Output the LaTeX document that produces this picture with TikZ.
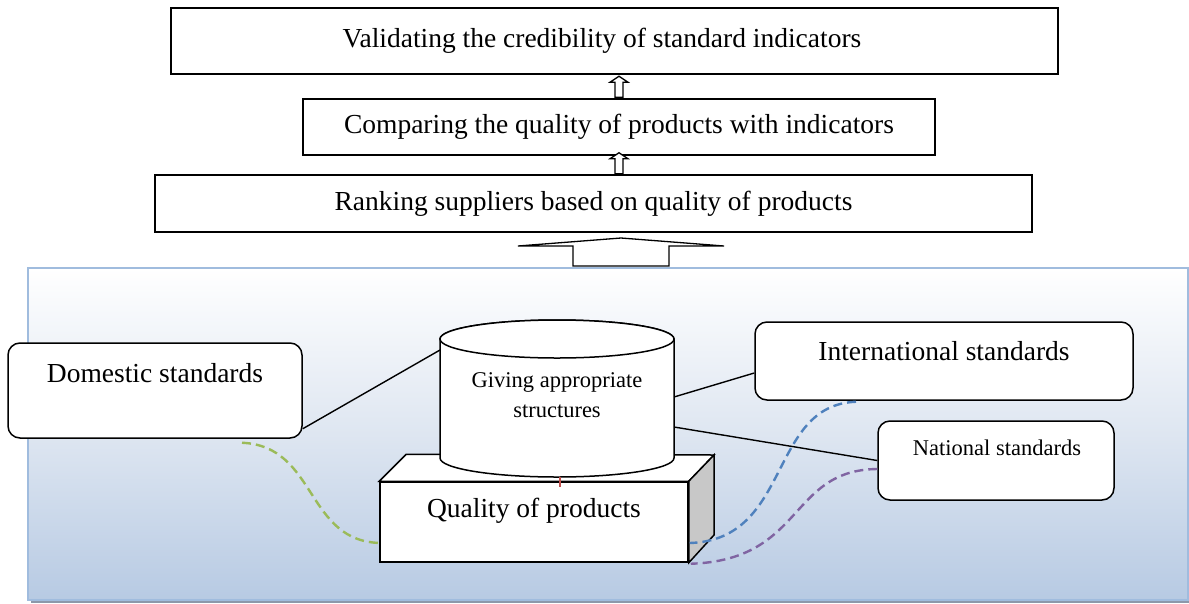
\documentclass[tikz,border=0pt]{standalone}
\usepackage{fontspec}
\setmainfont{Liberation Serif}
\usetikzlibrary{calc}
\definecolor{panelblue}{RGB}{183,202,227}
\definecolor{panelborder}{RGB}{160,188,222}
\definecolor{panelshadow}{RGB}{140,152,170}
\definecolor{sidegray}{RGB}{200,200,200}
\definecolor{dgreen}{RGB}{155,187,89}
\definecolor{dblue}{RGB}{79,129,189}
\definecolor{dpurple}{RGB}{128,100,162}
\definecolor{dred}{RGB}{192,80,77}
\tikzset{
  bigfont/.style={font=\fontsize{27.5}{33}\selectfont},
  smallfont/.style={font=\fontsize{22.5}{30}\selectfont},
  topbox/.style={draw, line width=1.5pt, fill=white, inner sep=0pt, bigfont},
  roundbox/.style={draw, line width=1.5pt, fill=white, rounded corners=12pt, inner sep=0pt},
  link/.style={line width=1.4pt},
  dashlink/.style={line width=2.4pt, dash pattern=on 9pt off 5pt},
  hollow/.style={draw, line width=1.3pt, fill=white, line join=miter},
  pics/uparr/.style={code={
    \draw[hollow] (-4,0) -- (-4,-15) -- (-9,-15) -- (0,-21) -- (9,-15) -- (4,-15) -- (4,0) -- cycle;}},
  pics/bigarr/.style={code={
    \draw[hollow] (-48,0) -- (-48,-20) -- (-103,-20) -- (0,-28) -- (103,-20) -- (48,-20) -- (48,0) -- cycle;}}
}
\begin{document}
\begin{tikzpicture}[x=1pt,y=-1pt]
\useasboundingbox (0,0) rectangle (1189,603);
\fill[white] (0,0) rectangle (1189,603);
% panel
\shade[top color=white, bottom color=panelblue, middle color={rgb,255:red,222;green,230;blue,241}] (28,268) rectangle (1188,600);
\draw[panelshadow, line width=2pt] (31,601.5) -- (1189,601.5);
\draw[panelborder, line width=2pt] (28,268) rectangle (1188,600);

% top boxes
\node[topbox, minimum width=887pt, minimum height=66pt] (b1) at (614.5,41) {};
\node[bigfont] (b1t) at (602,41) {Validating the credibility of standard indicators};
\node[topbox, minimum width=632pt, minimum height=56pt] (b2) at (619,127) {Comparing the quality of products with indicators};
\node[topbox, minimum width=877pt, minimum height=57pt] (b3) at (593.5,203.5) {Ranking suppliers based on quality of products};
\pic at ($(b2.north)+(0,-1)$) {uparr};
\pic at ($(b3.north -| b2.north)+(0,-0.5)$) {uparr};
\pic at (621,266) {bigarr};

% side boxes
\node[roundbox, minimum width=294pt, minimum height=95pt] (dom) at (155,390.5) {};
\node[bigfont, anchor=base] (domt) at (155,382) {Domestic standards};
\node[roundbox, minimum width=378pt, minimum height=78pt] (int) at (944,361) {};
\node[bigfont, anchor=base] (intt) at (944,360) {International standards};
\node[roundbox, minimum width=236pt, minimum height=79pt] (nat) at (996,460.5) {};
\node[smallfont, anchor=base] (natt) at (997,455) {National standards};

% cylinder attachment points
\coordinate (cylL) at (440,350);
\coordinate (cylR1) at (674,397);
\coordinate (cylR2) at (674,427);
\draw[link] ($(dom.south east)+(0,-10)$) -- (cylL);
\draw[link] (cylR1) -- ($(int.west)+(0,12)$);
\draw[link] (cylR2) -- (nat.west);

% 3D box
\node[draw, line width=1.5pt, fill=white, minimum width=308pt, minimum height=80pt, inner sep=0pt] (qbox) at (534,522) {};
\draw[line width=1.5pt, fill=white, line join=miter] (qbox.north west) -- ++(27,-27) -- (714,455) -- (qbox.north east) -- cycle;
\draw[line width=1.5pt, fill=sidegray, line join=miter] (qbox.north east) -- (714,455) -- (714,535) -- (qbox.south east) -- cycle;
\node[bigfont, anchor=base] (qt) at (534,517) {Quality of products};

% cylinder
\draw[line width=1.5pt, fill=white] (440,339) -- (440,458) arc[start angle=180, end angle=0, x radius=117, y radius=19] -- (674,339) arc[start angle=0, end angle=-180, x radius=117, y radius=19] -- cycle;
\draw[line width=1.5pt, fill=white] (557,339) ellipse [x radius=117, y radius=19];
\node[smallfont, align=center] (cyl) at (557,395) {Giving appropriate\\structures};
\coordinate (cylB) at (560,477);
\draw[dred, line width=1.5pt] (cylB) -- ($(cylB)+(0,10)$);

% dashed connectors
\draw[dashlink, dgreen] ($(dom.south)+(87,4)$) .. controls (318,446) and (305,543) .. ($(qbox.west)+(3,21)$);
\draw[dashlink, dblue] ($(int.south)+(-88,1)$) .. controls (768,405) and (792,540) .. ($(qbox.east)+(1,21)$);
\draw[dashlink, dpurple] (nat.west |- 0,469) .. controls (788,470) and (805,560) .. ($(qbox.south east)+(2,1)$);
\end{tikzpicture}
\end{document}
